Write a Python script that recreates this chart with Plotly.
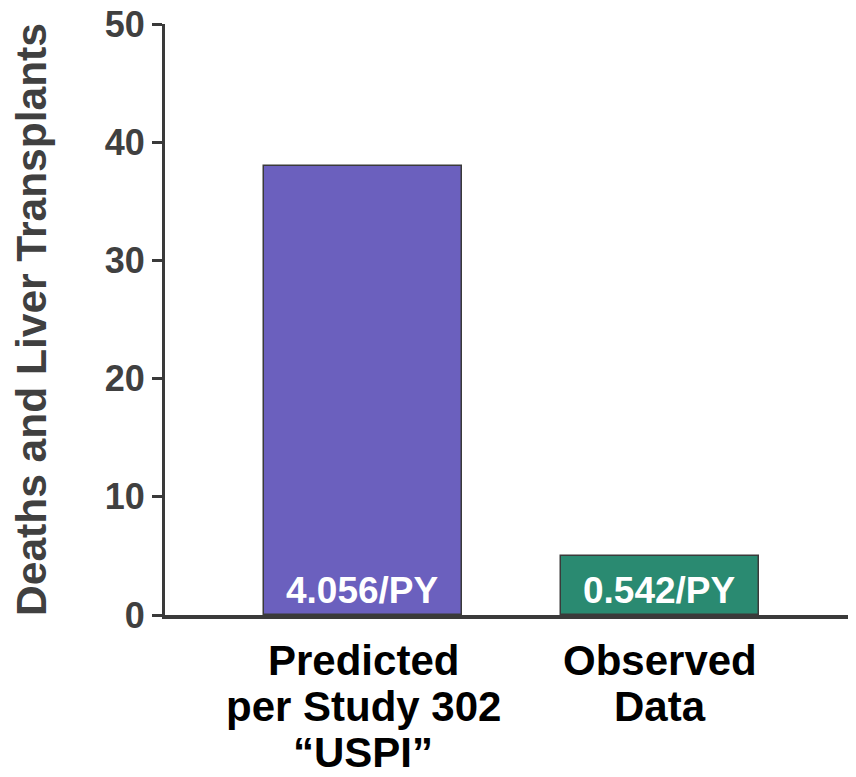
import plotly.graph_objects as go

categories = ["Predicted<br>per Study 302<br>\u201cUSPI\u201d", "Observed<br>Data"]
values = [38, 5]
bar_labels = ["4.056/PY", "0.542/PY"]
bar_colors = ["#6B60BE", "#2A8A71"]
y_ticks = [0, 10, 20, 30, 40, 50]
y_title = "Deaths and Liver Transplants"

FONT = "Liberation Sans, Arial, sans-serif"
x_pos = list(range(len(categories)))

fig = go.Figure()
fig.add_trace(go.Bar(
    x=x_pos, y=values, width=0.667,
    marker=dict(color=bar_colors, line=dict(color="#3a3a3a", width=1.5)),
    text=bar_labels, textposition="inside", insidetextanchor="start",
    textfont=dict(family=FONT, size=37, color="white", weight="bold"),
    constraintext="none", cliponaxis=False,
))

for i, cat in enumerate(categories):
    for j, line in enumerate(cat.split("<br>")):
        fig.add_annotation(
            x=x_pos[i], xref="x", y=0, yref="paper",
            yanchor="middle", xanchor="center",
            yshift=-(45 + 46 * j), showarrow=False, text=line,
            font=dict(family=FONT, size=42, color="black", weight="bold"),
        )

fig.update_layout(
    width=856, height=777,
    margin=dict(l=157, r=8, t=16, b=170),
    plot_bgcolor="white", paper_bgcolor="white",
    showlegend=False, bargap=0,
)
fig.update_xaxes(
    range=[-0.667, 1.66], showticklabels=False, ticks="",
    showline=True, linecolor="#3a3a3a", linewidth=4, showgrid=False, zeroline=False,
    automargin=False,
)
fig.update_yaxes(
    range=[0, 50], tickvals=y_ticks, ticks="outside", ticklen=10, tickwidth=3,
    tickcolor="#3a3a3a", showline=True, linecolor="#3a3a3a", linewidth=3,
    showgrid=False, zeroline=False, automargin=False, ticklabeloverflow="allow",
    tickfont=dict(family=FONT, size=36, color="#404040", weight="bold"),
    title=dict(text=y_title, standoff=54,
               font=dict(family=FONT, size=42.5, color="#404040", weight="bold")),
)

fig.write_html("out.html")
